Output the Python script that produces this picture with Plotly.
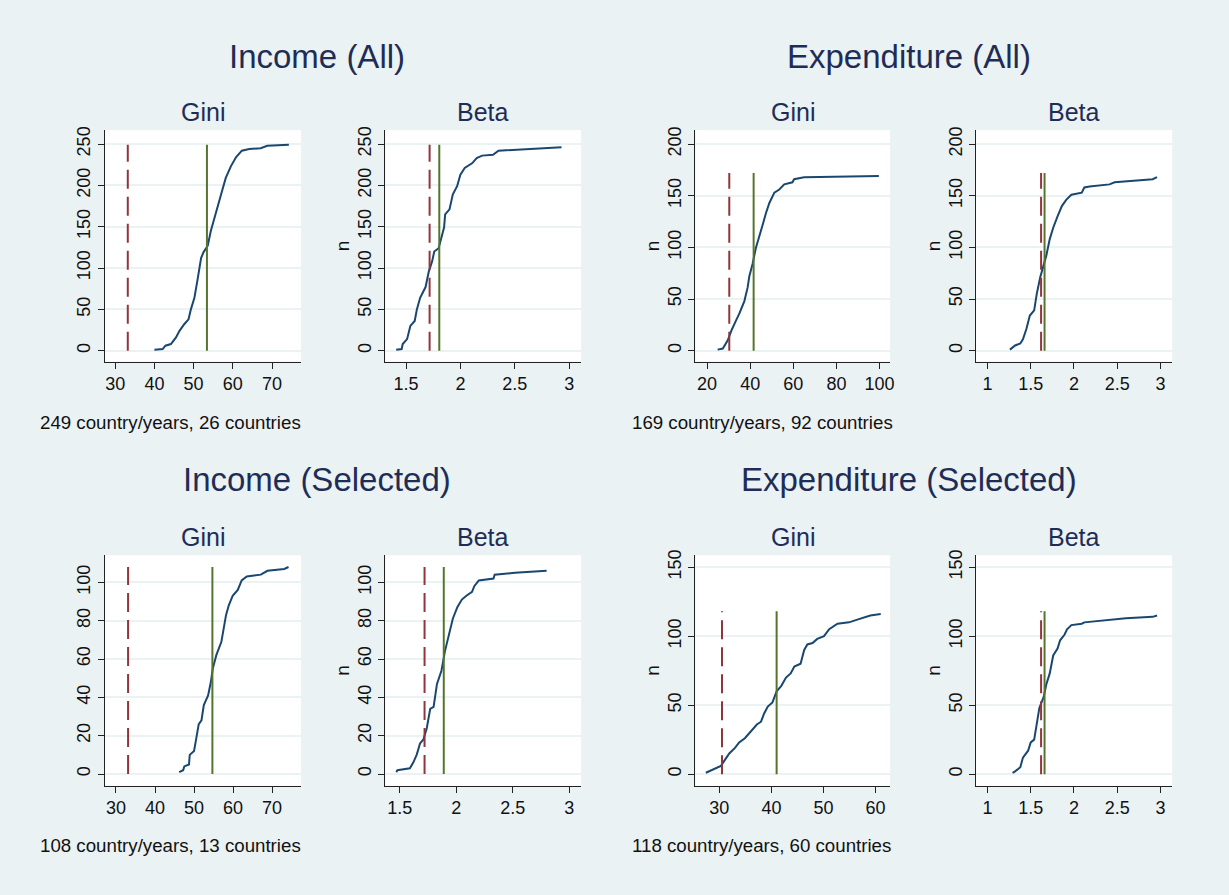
import plotly.graph_objects as go

W, H = 1229, 895

# Income (All)
incAllGiniX = [40.0, 42.1, 42.8, 44.2, 45.5, 46.4, 47.6, 48.7, 49.3, 50.2, 51.0, 51.9, 52.5, 53.6, 54.4, 55.3, 57.0, 58.2, 59.5, 60.8, 62.3, 64.2, 67.1, 68.8, 74.3]
incAllGiniN = [1, 2, 6, 8, 16, 24, 32, 38, 50, 64, 86, 112, 119, 127, 145, 161, 189, 209, 223, 234, 242, 244, 245, 248, 249]
incAllBetaX = [1.41, 1.46, 1.47, 1.51, 1.54, 1.58, 1.60, 1.63, 1.68, 1.71, 1.74, 1.76, 1.80, 1.85, 1.86, 1.90, 1.93, 1.97, 2.00, 2.04, 2.11, 2.15, 2.20, 2.30, 2.35, 2.50, 2.93]
incAllBetaN = [1, 2, 8, 14, 30, 36, 50, 64, 77, 96, 108, 120, 124, 149, 165, 171, 189, 199, 213, 221, 227, 233, 236, 237, 242, 243, 246]

# Expenditure (All)
expAllGiniX = [24.9, 27.3, 29.6, 31.4, 33.4, 35.0, 37.3, 38.8, 39.6, 41.1, 42.7, 44.2, 45.8, 47.3, 48.9, 51.2, 53.5, 55.8, 59.6, 60.4, 65.0, 99.7]
expAllGiniN = [1, 2, 10, 20, 29, 36, 48, 61, 72, 84, 100, 112, 122, 133, 143, 153, 156, 161, 163, 166, 168, 169]
expAllBetaX = [1.26, 1.32, 1.38, 1.41, 1.45, 1.49, 1.54, 1.57, 1.61, 1.64, 1.68, 1.72, 1.76, 1.81, 1.86, 1.91, 1.97, 2.09, 2.12, 2.18, 2.41, 2.47, 2.91, 2.96]
expAllBetaN = [1, 5, 7, 11, 21, 34, 39, 55, 71, 80, 92, 108, 119, 130, 140, 146, 151, 153, 158, 159, 161, 163, 166, 168]

# Income (Selected)
incSelGiniX = [46.2, 47.2, 47.5, 48.7, 48.9, 50.0, 50.6, 51.2, 51.9, 52.5, 53.6, 54.3, 54.8, 55.7, 57.0, 57.6, 58.2, 58.9, 59.9, 61.2, 62.2, 63.5, 67.1, 68.8, 73.1, 74.2]
incSelGiniN = [1, 2, 4, 5, 10, 12, 19, 26, 28, 36, 41, 48, 55, 62, 69, 77, 83, 88, 93, 96, 101, 103, 104, 106, 107, 108]
incSelBetaX = [1.47, 1.48, 1.59, 1.62, 1.65, 1.68, 1.71, 1.74, 1.77, 1.80, 1.83, 1.87, 1.90, 1.93, 1.97, 2.01, 2.05, 2.09, 2.14, 2.16, 2.20, 2.33, 2.34, 2.52, 2.80]
incSelBetaN = [1, 2, 3, 6, 10, 16, 18, 24, 34, 35, 47, 54, 64, 71, 81, 87, 91, 93, 95, 98, 101, 102, 104, 105, 106]

# Expenditure (Selected)
expSelGiniX = [27.4, 28.7, 30.3, 31.0, 31.9, 33.0, 33.8, 34.9, 36.2, 37.2, 38.0, 38.6, 39.3, 40.2, 41.0, 41.9, 42.8, 43.7, 44.4, 45.6, 46.3, 46.9, 47.9, 48.8, 50.1, 51.1, 52.7, 54.9, 56.5, 59.0, 61.0]
expSelGiniN = [1, 3, 6, 10, 15, 19, 23, 26, 32, 36, 38, 44, 49, 52, 60, 64, 70, 73, 78, 80, 90, 94, 95, 98, 100, 105, 109, 110, 112, 115, 116]
expSelBetaX = [1.29, 1.32, 1.38, 1.41, 1.47, 1.50, 1.54, 1.57, 1.60, 1.65, 1.68, 1.72, 1.76, 1.81, 1.84, 1.89, 1.92, 1.97, 2.09, 2.12, 2.45, 2.60, 2.91, 2.96]
expSelBetaN = [1, 2, 5, 12, 17, 23, 25, 37, 48, 56, 65, 73, 86, 91, 97, 101, 105, 108, 109, 110, 112, 113, 114, 115]

# 参考线 (红色虚线 / 绿色实线) 以及线的高度
redLines = [33.2, 1.717, 30.3, 1.62, 33.1, 1.72, 30.5, 1.62]
greenLines = [53.4, 1.806, 41.6, 1.66, 54.7, 1.89, 41.0, 1.66]
lineTops = [249, 249, 172, 172, 108, 108, 118, 118]

# 刻度
giniTicksInc = [30, 40, 50, 60, 70]
betaTicksInc = [1.5, 2, 2.5, 3]
giniTicksExpAll = [20, 40, 60, 80, 100]
giniTicksExpSel = [30, 40, 50, 60]
betaTicksExp = [1, 1.5, 2, 2.5, 3]
nTicksIncAll = [0, 50, 100, 150, 200, 250]
nTicksExpAll = [0, 50, 100, 150, 200]
nTicksIncSel = [0, 20, 40, 60, 80, 100]
nTicksExpSel = [0, 50, 100, 150]

# 文字
groupTitles = ['Income (All)', 'Expenditure (All)', 'Income (Selected)', 'Expenditure (Selected)']
notes = ['249 country/years, 26 countries', '169 country/years, 92 countries',
         '108 country/years, 13 countries', '118 country/years, 60 countries']

curves = [(incAllGiniX, incAllGiniN), (incAllBetaX, incAllBetaN), (expAllGiniX, expAllGiniN), (expAllBetaX, expAllBetaN),
          (incSelGiniX, incSelGiniN), (incSelBetaX, incSelBetaN), (expSelGiniX, expSelGiniN), (expSelBetaX, expSelBetaN)]
xticks = [giniTicksInc, betaTicksInc, giniTicksExpAll, betaTicksExp, giniTicksInc, betaTicksInc, giniTicksExpSel, betaTicksExp]
yticks = [nTicksIncAll, nTicksIncAll, nTicksExpAll, nTicksExpAll, nTicksIncSel, nTicksIncSel, nTicksExpSel, nTicksExpSel]
xranges = [[27.3, 77.4], [1.311, 3.11], [14.6, 104.9], [0.869, 3.135],
           [27.1, 77.4], [1.374, 3.105], [25.4, 62.8], [0.869, 3.135]]
yranges = [[-13.2, 266.8], [-13.2, 266.8], [-10.6, 213.5], [-10.6, 213.5],
           [-6.1, 114.1], [-6.1, 114.1], [-8.4, 158.6], [-8.4, 158.6]]
subTitles = ['Gini', 'Beta'] * 4
showN = [False, True, True, True, False, True, True, True]

# 像素位置 (左, 右) / (上, 下)
colPx = [(105, 302), (386.7, 583), (697.7, 893), (979.3, 1176)]
rowPx = [(125, 358), (553, 785)]

navy = '#1A476F'
maroon = '#90353B'
green = '#55752F'
bg = '#EAF2F3'
font = 'Liberation Sans, Arial, sans-serif'

fig = go.Figure()
layout = {}
annotations = []
for i in range(8):
    col = colPx[i % 4]
    row = rowPx[i // 4]
    ax = '' if i == 0 else str(i + 1)
    cx, cn = curves[i]
    fig.add_trace(go.Scatter(x=cx, y=cn, mode='lines', line=dict(color=navy, width=2),
                             xaxis='x' + ax, yaxis='y' + ax, showlegend=False, hoverinfo='skip'))
    fig.add_trace(go.Scatter(x=[redLines[i], redLines[i]], y=[0, lineTops[i]], mode='lines',
                             line=dict(color=maroon, width=2, dash='19px,8px'),
                             xaxis='x' + ax, yaxis='y' + ax, showlegend=False))
    fig.add_trace(go.Scatter(x=[greenLines[i], greenLines[i]], y=[0, lineTops[i]], mode='lines',
                             line=dict(color=green, width=2),
                             xaxis='x' + ax, yaxis='y' + ax, showlegend=False))
    layout['xaxis' + ax] = dict(
        domain=[col[0] / W, col[1] / W], range=xranges[i], anchor='y' + ax,
        tickvals=xticks[i], ticks='outside', ticklen=6, tickcolor='#222', tickwidth=1,
        showline=True, linecolor='#222', linewidth=1, showgrid=False, zeroline=False,
        tickfont=dict(family=font, size=18, color='#111'))
    layout['yaxis' + ax] = dict(
        domain=[1 - row[1] / H, 1 - row[0] / H], range=yranges[i], anchor='x' + ax,
        tickvals=yticks[i], tickangle=-90, ticks='outside', ticklen=6, tickcolor='#222', tickwidth=1,
        showline=True, linecolor='#222', linewidth=1, showgrid=True, gridcolor=bg, gridwidth=1.5,
        zeroline=False, tickfont=dict(family=font, size=18, color='#111'),
        title=dict(text='n' if showN[i] else '', font=dict(family=font, size=19, color='#111'), standoff=0))
    annotations.append(dict(text=subTitles[i], x=(col[0] + col[1]) / 2 / W, y=1 - (row[0] - 18) / H,
                            xref='paper', yref='paper', xanchor='center', yanchor='middle', showarrow=False,
                            font=dict(family=font, size=25, color='#1F2D56')))

titlePos = [(318, 51), (912, 51), (318, 477), (912, 477)]
notePos = [(38, 419), (632, 419), (38, 845), (632, 845)]
for t, (px, py) in zip(groupTitles, titlePos):
    annotations.append(dict(text=t, x=px / W, y=1 - py / H, xref='paper', yref='paper',
                            xanchor='center', yanchor='middle', showarrow=False,
                            font=dict(family=font, size=33, color='#1F2D56')))
for t, (px, py) in zip(notes, notePos):
    annotations.append(dict(text=t, x=px / W, y=1 - py / H, xref='paper', yref='paper',
                            xanchor='left', yanchor='middle', showarrow=False,
                            font=dict(family=font, size=18.7, color='#111')))

fig.update_layout(**layout)
fig.update_layout(
    width=W, height=H,
    margin=dict(l=0, r=0, t=0, b=0),
    paper_bgcolor=bg, plot_bgcolor='white',
    annotations=annotations,
    showlegend=False
)

fig.write_html("out.html", config={'displayModeBar': False},
               post_script="document.body.style.margin='0';")
